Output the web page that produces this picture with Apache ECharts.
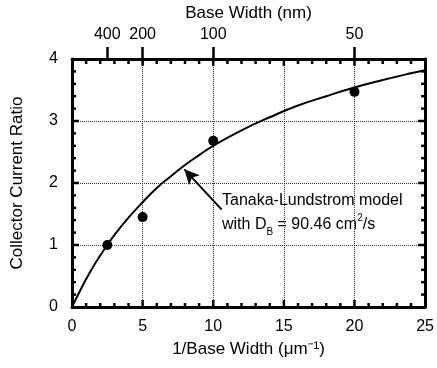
<!DOCTYPE html>
<html>
<head>
<meta charset="utf-8">
<script src="https://cdn.jsdelivr.net/npm/echarts@6/dist/echarts.min.js"></script>
<style>
  html, body { margin: 0; padding: 0; background: #fff; }
  #main { width: 437px; height: 368px; }
</style>
</head>
<body>
<div id="main"></div>
<script>
// measured points (1/base width in um^-1, collector current ratio)
var measX = [2.5, 5, 10, 20];
var measY = [1.0, 1.45, 2.68, 3.47];

// Tanaka-Lundstrom model curve
var modelX = [0, 0.5, 1, 1.5, 2, 2.5, 3, 4, 5, 6, 7, 8, 9, 10, 12, 14, 16, 18, 20, 22, 24, 25];
var modelY = [0, 0.23, 0.45, 0.65, 0.83, 1.0, 1.16, 1.44, 1.69, 1.92, 2.11, 2.29, 2.45, 2.6, 2.85, 3.06, 3.25, 3.4, 3.54, 3.66, 3.77, 3.82];

// frame ticks (every 1 on x, every 0.2 on y)
var xTickVals = [1, 2, 3, 4, 5, 6, 7, 8, 9, 10, 11, 12, 13, 14, 15, 16, 17, 18, 19, 20, 21, 22, 23, 24];
var yTickVals = [0.2, 0.4, 0.6, 0.8, 1, 1.2, 1.4, 1.6, 1.8, 2, 2.2, 2.4, 2.6, 2.8, 3, 3.2, 3.4, 3.6, 3.8];

// top axis: slots every 2.5 um^-1, base width (nm) shown at some of them
var topSlots = ['0', '2.5', '5', '7.5', '10', '12.5', '15', '17.5', '20', '22.5', '25'];
var topTickPos = ['2.5', '5', '10', '20'];
var topTickLabels = ['400', '200', '100', '50'];

var FONT = '"Liberation Sans", Arial, sans-serif';

var chart = echarts.init(document.getElementById('main'));

function zip(a, b) {
  return a.map(function (v, i) { return [v, b[i]]; });
}
function line() {
  return { show: true, onZero: false, lineStyle: { color: '#000', width: 3 } };
}
function labels(extra) {
  return Object.assign({ color: '#000', fontSize: 16, fontFamily: FONT }, extra || {});
}
function nameStyle() {
  return { color: '#000', fontSize: 17, fontFamily: FONT };
}
function grid() {
  return { show: true, lineStyle: { color: '#333', type: 'dotted', width: 1 } };
}
function isTop(i, v) {
  return topTickPos.indexOf(v) >= 0;
}
function tickLine(x1, y1, x2, y2) {
  return { type: 'line', shape: { x1: x1, y1: y1, x2: x2, y2: y2 }, style: { stroke: '#000', lineWidth: 2.5 } };
}

// inward ticks on bottom and top edges
function renderXTicks(params, api) {
  var v = api.value(0);
  var p = api.coord([v, 0]);
  var cs = params.coordSys;
  var len = v % 5 === 0 ? 7 : 4;
  return {
    type: 'group',
    children: [
      tickLine(p[0], cs.y + cs.height, p[0], cs.y + cs.height - len),
      tickLine(p[0], cs.y, p[0], cs.y + (v % 5 === 0 ? 7 : 5))
    ]
  };
}
// inward ticks on left and right edges
function renderYTicks(params, api) {
  var v = api.value(1);
  var p = api.coord([0, v]);
  var cs = params.coordSys;
  var len = Math.abs(v - Math.round(v)) < 1e-6 ? 7 : 4;
  return {
    type: 'group',
    children: [
      tickLine(cs.x, p[1], cs.x + len, p[1]),
      tickLine(cs.x + cs.width, p[1], cs.x + cs.width - len, p[1])
    ]
  };
}

var option = {
  animation: false,
  grid: { left: 72, right: 10, top: 59, bottom: 61 },
  xAxis: [
    {
      type: 'value', position: 'bottom', min: 0, max: 25, interval: 5,
      name: '1/Base Width (μm⁻¹)', nameLocation: 'middle', nameGap: 34, nameTextStyle: nameStyle(),
      axisLine: line(),
      axisTick: { show: false },
      axisLabel: labels({ margin: 12 }),
      splitLine: grid()
    },
    {
      // base width scale on top
      type: 'category', position: 'top', boundaryGap: false, data: topSlots,
      name: 'Base Width (nm)', nameLocation: 'middle', nameGap: 36, nameTextStyle: nameStyle(),
      axisLine: line(),
      axisTick: { show: true, inside: false, length: 12, interval: isTop, lineStyle: { color: '#000', width: 2.5 } },
      axisLabel: labels({
        margin: 16,
        interval: isTop,
        formatter: function (v) {
          var i = topTickPos.indexOf(v);
          return i >= 0 ? topTickLabels[i] : '';
        }
      }),
      splitLine: { show: false },
      splitArea: { show: false }
    }
  ],
  yAxis: [
    {
      type: 'value', position: 'left', min: 0, max: 4, interval: 1,
      name: 'Collector Current Ratio', nameLocation: 'middle', nameGap: 46, nameTextStyle: nameStyle(),
      axisLine: line(),
      axisTick: { show: false },
      axisLabel: labels({ margin: 14 }),
      splitLine: grid()
    },
    {
      type: 'value', position: 'right', min: 0, max: 4, interval: 1,
      axisLine: line(),
      axisTick: { show: false },
      axisLabel: { show: false },
      splitLine: { show: false }
    }
  ],
  graphic: [
    {
      type: 'text', left: 222, top: 189,
      style: {
        text: 'Tanaka-Lundstrom model\n{n|with D}{sub|B}{n| = 90.46 cm}{sup|2}{n|/s}',
        fill: '#000', font: '16px ' + FONT, lineHeight: 24,
        rich: {
          n: { fontSize: 16, fontFamily: FONT, fill: '#000' },
          sub: { fontSize: 10, fontFamily: FONT, fill: '#000', verticalAlign: 'bottom', padding: [8, 0, 0, 0] },
          sup: { fontSize: 10, fontFamily: FONT, fill: '#000', verticalAlign: 'top', padding: [0, 0, 8, 0] }
        }
      }
    }
  ],
  series: [
    {
      type: 'custom',
      xAxisIndex: 0, yAxisIndex: 0,
      silent: true,
      clip: false,
      renderItem: renderXTicks,
      data: xTickVals.map(function (v) { return [v, 0]; })
    },
    {
      type: 'custom',
      xAxisIndex: 0, yAxisIndex: 0,
      silent: true,
      clip: false,
      renderItem: renderYTicks,
      data: yTickVals.map(function (v) { return [0, v]; })
    },
    {
      type: 'line',
      xAxisIndex: 0, yAxisIndex: 0,
      data: zip(modelX, modelY),
      smooth: true,
      showSymbol: false,
      lineStyle: { color: '#000', width: 2 },
      itemStyle: { color: '#000' },
      markLine: {
        silent: true,
        symbol: ['none', 'arrow'],
        symbolSize: [11, 15],
        label: { show: false },
        lineStyle: { color: '#000', width: 2, type: 'solid' },
        data: [[{ coord: [10.6, 1.57] }, { coord: [7.95, 2.22] }]]
      }
    },
    {
      type: 'scatter',
      xAxisIndex: 0, yAxisIndex: 0,
      data: zip(measX, measY),
      symbol: 'circle',
      symbolSize: 10,
      itemStyle: { color: '#000', opacity: 1 }
    }
  ]
};

chart.setOption(option);
</script>
</body>
</html>
